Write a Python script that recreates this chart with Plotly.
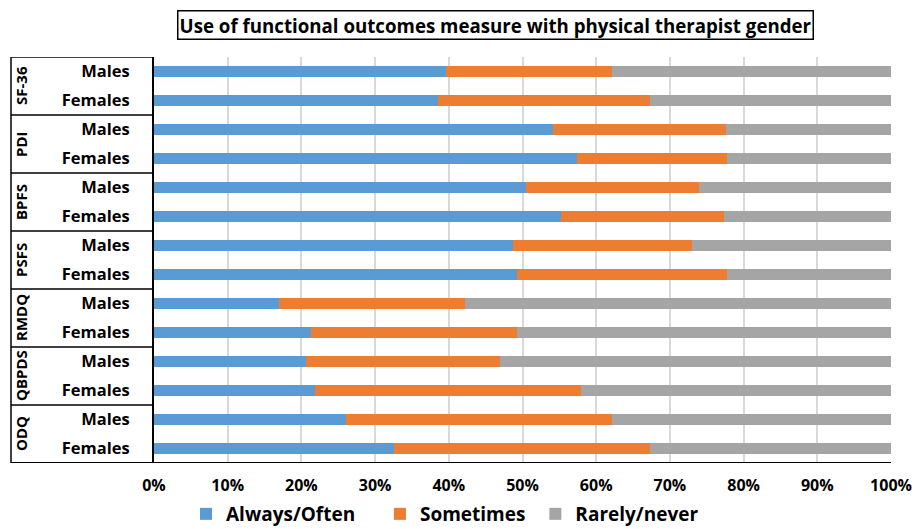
import plotly.graph_objects as go

# Survey data: share of physical therapists (%) by response, per measure and gender
measures = ["SF-36", "PDI", "BPFS", "PSFS", "RMDQ", "QBPDS", "ODQ"]
genders = ["Males", "Females"]

always_males = [39.6, 54.1, 50.5, 48.7, 17.0, 20.6, 26.1]
always_females = [38.6, 57.4, 55.2, 49.3, 21.3, 21.9, 32.6]
sometimes_males = [22.6, 23.5, 23.5, 24.3, 25.2, 26.3, 36.1]
sometimes_females = [28.7, 20.4, 22.1, 28.4, 28.0, 36.0, 34.7]
rarely_males = [37.8, 22.4, 26.0, 27.0, 57.8, 53.1, 37.8]
rarely_females = [32.7, 22.2, 22.7, 22.3, 50.7, 42.1, 32.7]

x_ticks = [0, 10, 20, 30, 40, 50, 60, 70, 80, 90, 100]
x_tick_labels = [f"{v}%" for v in x_ticks]

series = [
    ("Always/Often", always_males, always_females, "#5B9BD5"),
    ("Sometimes", sometimes_males, sometimes_females, "#ED7D31"),
    ("Rarely/never", rarely_males, rarely_females, "#A5A5A5"),
]

FONT = "Open Sans"
PAD = "\u00a0"

# one row per (measure, gender), Males first within each measure
rows = list(range(len(measures) * len(genders)))
row_labels = [g for _ in measures for g in genders]

fig = go.Figure()
legend_pad = [4, 1, 0]
for (name, males, females, color), pad in zip(series, legend_pad):
    vals = []
    for m, f in zip(males, females):
        vals += [m, f]
    fig.add_trace(go.Bar(
        x=vals, y=rows, orientation="h", name=f"<b>{name}</b>" + PAD * pad,
        marker=dict(color=color, line=dict(width=0)),
    ))

n = len(rows)
left_edge = (11 - 154) / 737  # left border of the category table, in paper units

shapes = [
    # top border of the category table
    dict(type="line", xref="paper", yref="y", x0=left_edge, x1=0,
         y0=-0.5, y1=-0.5, line=dict(color="black", width=1.5)),
    # left border of the category table
    dict(type="line", xref="paper", yref="y", x0=left_edge, x1=left_edge,
         y0=-0.5, y1=n - 0.5, line=dict(color="black", width=1.5)),
    # bottom line across table and plot
    dict(type="line", xref="paper", yref="y", x0=left_edge, x1=1,
         y0=n - 0.5, y1=n - 0.5, line=dict(color="black", width=2)),
]
for i in range(1, len(measures)):
    yb = 2 * i - 0.5
    shapes.append(dict(type="line", xref="paper", yref="y", x0=left_edge, x1=0,
                       y0=yb, y1=yb, line=dict(color="black", width=1.5)))

annotations = []
for i, m in enumerate(measures):
    annotations.append(dict(
        text=f"<b>{m}</b>", xref="paper", yref="y", x=(21 - 154) / 737,
        y=2 * i + 0.5, textangle=-90, showarrow=False,
        font=dict(family=FONT, size=15, color="black"),
        xanchor="center", yanchor="middle",
    ))

annotations.append(dict(
    text="<b>Use of functional outcomes measure with physical therapist gender</b>",
    xref="paper", yref="paper", x=(495 - 154) / 737, y=1 + (57 - 25) / 406,
    showarrow=False, xanchor="center", yanchor="middle",
    font=dict(family=FONT, size=18.7, color="black"),
    bordercolor="black", borderwidth=1.5, borderpad=1, bgcolor="white",
))

fig.update_layout(
    barmode="stack",
    bargap=0.62,
    width=914, height=529,
    margin=dict(l=154, r=23, t=57, b=66),
    paper_bgcolor="white", plot_bgcolor="white",
    font=dict(family=FONT, color="black"),
    shapes=shapes,
    annotations=annotations,
    showlegend=True,
    legend=dict(
        orientation="h", xref="container", yref="container",
        x=186 / 914, xanchor="left", y=1 - 514 / 529, yanchor="middle",
        font=dict(family=FONT, size=19, color="black"),
        itemwidth=30, traceorder="normal",
    ),
    xaxis=dict(
        range=[0, 100], tickvals=x_ticks, ticktext=[f"<b>{t}</b>" for t in x_tick_labels],
        showgrid=True, gridcolor="#D9D9D9", gridwidth=1.5,
        zeroline=False, showline=False, ticks="",
        tickfont=dict(family=FONT, size=16, color="black"),
        ticklabelstandoff=11, automargin=False,
    ),
    yaxis=dict(
        range=[n - 0.5, -0.5], tickvals=rows,
        ticktext=[f"<b>{t}</b>" for t in row_labels],
        showgrid=False, zeroline=False, ticks="",
        showline=True, linecolor="black", linewidth=2,
        tickfont=dict(family=FONT, size=16.5, color="black"),
        ticklabelstandoff=19, automargin=False,
    ),
)

fig.write_html("out.html")
